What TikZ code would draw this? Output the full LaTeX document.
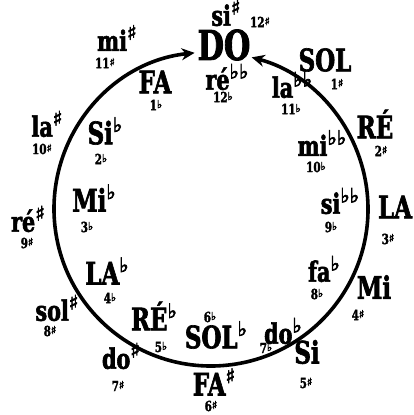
\documentclass[tikz,border=0pt]{standalone}
\usepackage{fontspec}
\usetikzlibrary{arrows.meta}
\newfontfamily\bigf[FakeStretch=0.74,FakeBold=2]{DejaVu Serif Bold}
\newfontfamily\symf[FakeBold=3]{DejaVu Sans}
\newcommand\accup[1]{\raisebox{0.40em}{\fontsize{20}{20}\selectfont\symf #1}}
\newcommand\numacc[1]{\raisebox{0.15em}{\fontsize{11}{11}\selectfont\symf #1}}
\tikzset{
  big/.style={font=\bigf\fontsize{31}{31}\selectfont, inner sep=0pt},
  huge/.style={font=\bigf\fontsize{41}{41}\selectfont, inner sep=0pt},
  low/.style={font=\bigf\fontsize{28}{28}\selectfont, inner sep=0pt},
  num/.style={font=\bigf\fontsize{14}{14}\selectfont, inner sep=0pt},
  ring/.style={line width=3.6pt, {Stealth[length=13pt,width=12pt]}-{Stealth[length=13pt,width=12pt]}}
}
\begin{document}
\begin{tikzpicture}[x=1pt,y=1pt]
\useasboundingbox (0,0) rectangle (413,-415);
\coordinate (c) at (211,-209);
\draw[ring] ([shift={(96:157pt)}]c) arc[start angle=96,end angle=435,radius=157pt];
% top
\node[huge] (do) at (224,-45) {DO};
\node[low] (sis) at (226,-13) {si\accup{♯}};
\node[num] (n12s) at (260,-22) {12\numacc{♯}};
\node[low] (rebb) at (227,-77) {ré\accup{♭♭}};
\node[num] (n12b) at (223,-97) {12\numacc{♭}};
% sharps side (right)
\node[big] (sol) at (325,-60) {SOL};
\node[num] (n1s) at (337,-84) {1\numacc{♯}};
\node[low] (labb) at (292,-85) {la\accup{♭♭}};
\node[num] (n11b) at (291,-109) {11\numacc{♭}};
\node[big] (re) at (375,-124) {RÉ};
\node[num] (n2s) at (381,-151) {2\numacc{♯}};
\node[low] (mibb) at (322,-143) {mi\accup{♭♭}};
\node[num] (n10b) at (316,-167) {10\numacc{♭}};
\node[big] (la) at (395,-207) {LA};
\node[num] (n3s) at (388,-239) {3\numacc{♯}};
\node[low] (sibb) at (340,-201) {si\accup{♭♭}};
\node[num] (n9b) at (331,-227) {9\numacc{♭}};
\node[big] (mi) at (374,-287) {Mi};
\node[num] (n4s) at (358,-315) {4\numacc{♯}};
\node[low] (fab) at (324,-269) {fa\accup{♭}};
\node[num] (n8b) at (317,-294) {8\numacc{♭}};
\node[big] (si) at (307,-352) {Si};
\node[num] (n5s) at (306,-383) {5\numacc{♯}};
\node[low] (dob) at (283,-331) {do\accup{♭}};
\node[num] (n7b) at (266,-348) {7\numacc{♭}};
% bottom
\node[big] (fas) at (214,-382) {FA\accup{♯}};
\node[num] (n6s) at (211,-406) {6\numacc{♯}};
\node[big] (solb) at (216,-335) {SOL\accup{♭}};
\node[num] (n6b) at (210,-317) {6\numacc{♭}};
% flats side (left)
\node[big] (reb) at (154,-316) {RÉ\accup{♭}};
\node[num] (n5b) at (161,-347) {5\numacc{♭}};
\node[low] (dos) at (121,-356) {do\accup{♯}};
\node[num] (n7s) at (118,-386) {7\numacc{♯}};
\node[big] (lab) at (107,-271) {LA\accup{♭}};
\node[num] (n4b) at (110,-298) {4\numacc{♭}};
\node[low] (sols) at (57,-308) {sol\accup{♯}};
\node[num] (n8s) at (50,-331) {8\numacc{♯}};
\node[big] (mib) at (94,-198) {Mi\accup{♭}};
\node[num] (n3b) at (87,-227) {3\numacc{♭}};
\node[low] (res) at (28,-219) {ré\accup{♯}};
\node[num] (n9s) at (27,-243) {9\numacc{♯}};
\node[big] (sib) at (105,-131) {Si\accup{♭}};
\node[num] (n2b) at (101,-159) {2\numacc{♭}};
\node[low] (las) at (47,-124) {la\accup{♯}};
\node[num] (n10s) at (42,-149) {10\numacc{♯}};
\node[big] (fa) at (155,-82) {FA};
\node[num] (n1b) at (156,-105) {1\numacc{♭}};
\node[low] (mis) at (117,-38) {mi\accup{♯}};
\node[num] (n11s) at (105,-63) {11\numacc{♯}};
\end{tikzpicture}
\end{document}
